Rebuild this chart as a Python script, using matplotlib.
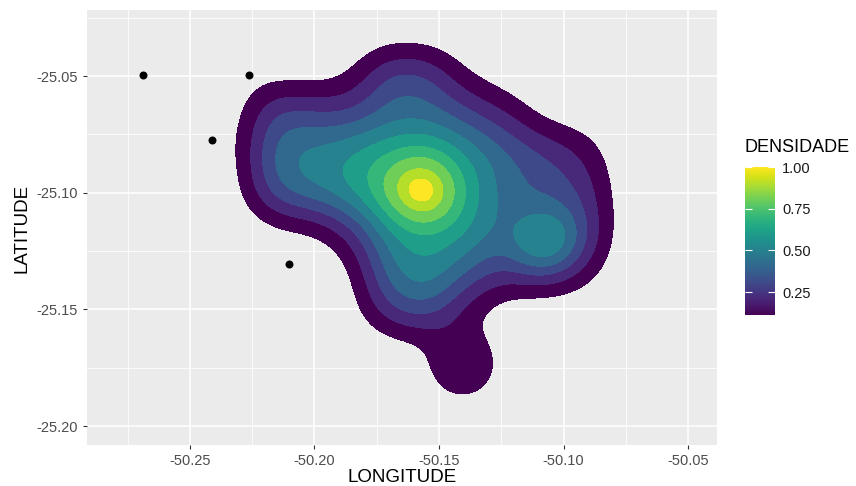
import numpy as np
import matplotlib.pyplot as plt
from matplotlib import cm, colors

# pontos (lon, lat) e numero de casos em cada local
lon = np.array([
    -50.1846, -50.1694, -50.1542,
    -50.2151, -50.1999, -50.1846, -50.1694, -50.1542, -50.1389, -50.1237,
    -50.2151, -50.1999, -50.1846, -50.1694, -50.1542, -50.1389, -50.1237, -50.1084, -50.0932,
    -50.2151, -50.1999, -50.1846, -50.1694, -50.1550, -50.1389, -50.1237, -50.1084, -50.0932,
    -50.1846, -50.1694, -50.1542, -50.1389, -50.1237, -50.1076, -50.0932,
    -50.1694, -50.1542, -50.1389, -50.1237, -50.1084, -50.0932,
    -50.1694, -50.1542, -50.1389,
    -50.1405,
    -50.2688, -50.2263, -50.2412, -50.2103, -50.1369])
lat = np.array([
    -25.0504, -25.0504, -25.0504,
    -25.0667, -25.0667, -25.0667, -25.0667, -25.0667, -25.0667, -25.0667,
    -25.0830, -25.0830, -25.0830, -25.0830, -25.0830, -25.0830, -25.0830, -25.0830, -25.0830,
    -25.0992, -25.0992, -25.0992, -25.0992, -25.0997, -25.0992, -25.0992, -25.0992, -25.0992,
    -25.1155, -25.1155, -25.1155, -25.1155, -25.1155, -25.1202, -25.1155,
    -25.1317, -25.1317, -25.1317, -25.1317, -25.1317, -25.1317,
    -25.1480, -25.1480, -25.1480,
    -25.1737,
    -25.0496, -25.0496, -25.0774, -25.1305, -25.0513])
casos = np.array([
    1, 8, 7,
    8, 6, 5, 8, 8, 6, 4,
    10, 10, 12, 13, 14, 11, 8, 6, 4,
    9, 10, 12, 16, 28, 12, 8, 7, 6,
    4, 11, 11, 12, 7, 21, 7,
    10, 12, 8, 5, 4, 3,
    7, 9, 2,
    10,
    1, 1, 1, 1, 1])

# densidade 2d (kernel gaussiano), normalizada
bw_lon, bw_lat = 0.01043, 0.01113
gx = np.linspace(-50.30, -50.03, 400)
gy = np.linspace(-25.215, -25.015, 400)
X, Y = np.meshgrid(gx, gy)
dens = np.zeros_like(X)
for x0, y0, w in zip(lon, lat, casos):
    dens += w * np.exp(-0.5 * (((X - x0) / bw_lon) ** 2 + ((Y - y0) / bw_lat) ** 2))
dens = dens / dens.max()

niveis = [0.1, 0.2, 0.3, 0.4, 0.5, 0.6, 0.7, 0.8, 0.9, 0.97, 1.01]
cores = cm.viridis(np.linspace(0, 1, 10))

fig = plt.figure(figsize=(8.56, 4.86), dpi=100)
ax = fig.add_axes([87/856, 1-445/486, 630/856, 435/486])
ax.set_facecolor('#EBEBEB')
for s in ax.spines.values():
    s.set_visible(False)

ax.set_xlim(-50.2913, -50.0384)
ax.set_ylim(-25.2081, -25.0217)
ax.set_xticks([-50.25, -50.20, -50.15, -50.10, -50.05])
ax.set_yticks([-25.20, -25.15, -25.10, -25.05])
ax.set_xticks(np.arange(-50.275, -50.03, 0.05), minor=True)
ax.set_yticks(np.arange(-25.175, -25.02, 0.05), minor=True)
ax.grid(which='major', color='white', lw=1.1)
ax.grid(which='minor', color='white', lw=0.55)
ax.set_axisbelow(True)
ax.tick_params(which='major', length=3, width=0.8, color='#333333',
               labelsize=10.5, labelcolor='#4D4D4D')
ax.tick_params(which='minor', length=0)
ax.set_xticklabels(['-50.25', '-50.20', '-50.15', '-50.10', '-50.05'], family='Liberation Sans')
ax.set_yticklabels(['-25.20', '-25.15', '-25.10', '-25.05'], family='Liberation Sans')

ax.scatter(lon[-5:], lat[-5:], s=33, color='black', zorder=2, lw=0)
ax.contourf(X, Y, dens, levels=niveis, colors=cores, zorder=3)

fig.text(402/856, 1-477/486, 'LONGITUDE', fontsize=13.5, family='Liberation Sans',
         ha='center', va='center')
fig.text(22/856, 1-228/486, 'LATITUDE', fontsize=13.5, family='Liberation Sans',
         ha='center', va='center', rotation=90)

# barra de cores
cax = fig.add_axes([745/856, 1-315/486, 30/856, 148/486])
norm = colors.Normalize(vmin=0.112, vmax=1.0)
cb = fig.colorbar(cm.ScalarMappable(norm=norm, cmap='viridis'), cax=cax)
cb.outline.set_visible(False)
cb.set_ticks([0.25, 0.50, 0.75, 1.00])
cb.set_ticklabels(['0.25', '0.50', '0.75', '1.00'])
cax.yaxis.set_ticks_position('both')
cax.tick_params(direction='in', length=5, width=0.8, color='white',
                labelsize=10.5, labelcolor='#1A1A1A', labelright=True, labelleft=False, pad=5)
for t in cax.get_yticklabels():
    t.set_family('Liberation Sans')
fig.text(745/856, 1-148/486, 'DENSIDADE', fontsize=13, family='Liberation Sans',
         va='center', ha='left')

fig.savefig('out.png', dpi=100)
